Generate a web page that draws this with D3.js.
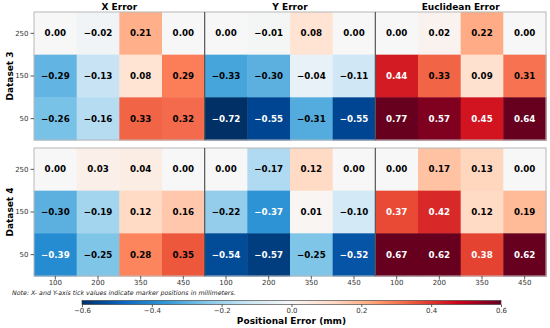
<!DOCTYPE html>
<html>
<head>
<meta charset="utf-8">
<script src="https://cdn.jsdelivr.net/npm/d3@7"></script>
<style>
  body { margin: 0; background: #fff; }
  svg { font-family: "DejaVu Sans", sans-serif; }
</style>
</head>
<body>
<div id="chart"></div>
<script>
// data
const datasets = ["Dataset 3", "Dataset 4"]
const metrics = ["X Error", "Y Error", "Euclidean Error"]
const xTicks = [100, 200, 350, 450]
const yTicks = [250, 150, 50]
const cbTicks = [-0.6, -0.4, -0.2, 0.0, 0.2, 0.4, 0.6]

// rows are y = 250, 150, 50 ; columns are x = 100, 200, 350, 450
const ds3X = [[0.00, -0.02, 0.21, 0.00], [-0.29, -0.13, 0.08, 0.29], [-0.26, -0.16, 0.33, 0.32]]
const ds3Y = [[0.00, -0.01, 0.08, 0.00], [-0.33, -0.30, -0.04, -0.11], [-0.72, -0.55, -0.31, -0.55]]
const ds3E = [[0.00, 0.02, 0.22, 0.00], [0.44, 0.33, 0.09, 0.31], [0.77, 0.57, 0.45, 0.64]]
const ds4X = [[0.00, 0.03, 0.04, 0.00], [-0.30, -0.19, 0.12, 0.16], [-0.39, -0.25, 0.28, 0.35]]
const ds4Y = [[0.00, -0.17, 0.12, 0.00], [-0.22, -0.37, 0.01, -0.10], [-0.54, -0.57, -0.25, -0.52]]
const ds4E = [[0.00, 0.17, 0.13, 0.00], [0.37, 0.42, 0.12, 0.19], [0.67, 0.62, 0.38, 0.62]]

const grids = [[ds3X, ds3Y, ds3E], [ds4X, ds4Y, ds4E]]

const width = 550, height = 328
const margin = { left: 34, right: 546, top: 12, bottom: 276 }

// RdBu_r, built from the colorbrewer anchors
const rdbu = ["#053061", "#2166ac", "#4393c3", "#92c5de", "#d1e5f0", "#f7f7f7",
              "#fddbc7", "#f4a582", "#d6604d", "#b2182b", "#67001f"]
const baseColor = d3.scaleLinear()
    .domain(d3.range(rdbu.length).map(i => -0.6 + i * 1.2 / (rdbu.length - 1)))
    .range(rdbu)
    .interpolate(d3.interpolateRgb)
    .clamp(true)

// the picture looks a bit more saturated than the plain colormap
const color = v => {
    let c = d3.hsl(baseColor(v))
    c.s = Math.min(1, c.s * 1.3)
    return c.formatHex()
}

const fmt = v => d3.format(".2f")(v).replace("-", "\u2212")

let svg = d3.select("#chart")
    .append("svg")
    .attr("width", width)
    .attr("height", height)

const rowBand = d3.scaleBand().domain(datasets).range([margin.top, margin.bottom]).paddingInner(8 / 136)
const panelBand = d3.scaleBand().domain(metrics).range([margin.left, margin.right])
const xBand = d3.scaleBand().domain(xTicks).range([0, panelBand.bandwidth()])
const yBand = d3.scaleBand().domain(yTicks).range([0, rowBand.bandwidth()])

// column titles
svg.selectAll(".title")
    .data(metrics)
    .enter()
    .append("text")
    .attr("x", d => panelBand(d) + panelBand.bandwidth() / 2)
    .attr("y", 10)
    .attr("text-anchor", "middle")
    .style("font-size", "9px")
    .style("font-weight", "bold")
    .text(d => d)

datasets.forEach((ds, r) => {
    const y0 = rowBand(ds)
    let g = svg.append("g").attr("transform", `translate(0,${y0})`)

    metrics.forEach((m, c) => {
        const x0 = panelBand(m)
        const cells = []
        grids[r][c].forEach((row, i) => row.forEach((v, j) => cells.push({ x: xTicks[j], y: yTicks[i], v: v })))

        let p = g.append("g").attr("transform", `translate(${x0},0)`)
        p.selectAll("rect")
            .data(cells)
            .enter()
            .append("rect")
            .attr("x", d => xBand(d.x))
            .attr("y", d => yBand(d.y))
            .attr("width", xBand.bandwidth() + 0.5)
            .attr("height", yBand.bandwidth() + 0.5)
            .style("fill", d => color(d.v))

        p.selectAll("text")
            .data(cells)
            .enter()
            .append("text")
            .attr("x", d => xBand(d.x) + xBand.bandwidth() / 2)
            .attr("y", d => yBand(d.y) + yBand.bandwidth() / 2)
            .attr("dy", "0.36em")
            .attr("text-anchor", "middle")
            .style("font-size", "8.7px")
            .style("font-weight", "bold")
            .style("fill", d => Math.abs(d.v) > 0.36 ? "#fff" : "#000")
            .text(d => fmt(d.v))
    })

    // frame and panel dividers
    g.append("rect")
        .attr("x", margin.left).attr("y", 0)
        .attr("width", margin.right - margin.left).attr("height", rowBand.bandwidth())
        .style("fill", "none").style("stroke", "#b8b8b8").style("stroke-width", 1)
    g.selectAll(".divider")
        .data(metrics.slice(1))
        .enter()
        .append("line")
        .attr("x1", d => panelBand(d)).attr("x2", d => panelBand(d))
        .attr("y1", 0).attr("y2", rowBand.bandwidth())
        .style("stroke", "#555").style("stroke-width", 1.2)

    // y axis
    let yAxis = g.append("g")
        .attr("transform", `translate(${margin.left},0)`)
        .call(d3.axisLeft(yBand).tickSize(3.5).tickPadding(2))
    yAxis.select(".domain").remove()
    yAxis.selectAll("line").style("stroke", "#333").style("stroke-width", 0.8)
    yAxis.selectAll("text").style("font-size", "7px").style("fill", "#333")
        .style("font-family", "DejaVu Sans")

    g.append("text")
        .attr("transform", `translate(13,${rowBand.bandwidth() / 2}) rotate(-90)`)
        .attr("text-anchor", "middle")
        .style("font-size", "9px")
        .style("font-weight", "bold")
        .text(ds)
})

// x axes under the bottom row
metrics.forEach(m => {
    let xAxis = svg.append("g")
        .attr("transform", `translate(${panelBand(m)},${margin.bottom})`)
        .call(d3.axisBottom(xBand).tickSize(3.5).tickPadding(1))
    xAxis.select(".domain").remove()
    xAxis.selectAll("line").style("stroke", "#333").style("stroke-width", 0.8)
    xAxis.selectAll("text").style("font-size", "7px").style("fill", "#333")
        .style("font-family", "DejaVu Sans")
})

svg.append("text")
    .attr("x", 12)
    .attr("y", 294.5)
    .style("font-size", "6.3px")
    .style("font-style", "italic")
    .style("fill", "#222")
    .text("Note: X- and Y-axis tick values indicate marker positions in millimeters.")

// colorbar
const cbX = d3.scaleLinear().domain([-0.6, 0.6]).range([82, 501])
const cbY = 300.5, cbH = 4

let grad = svg.append("defs").append("linearGradient").attr("id", "cbgrad")
grad.selectAll("stop")
    .data(d3.range(0, 1.0001, 0.02))
    .enter()
    .append("stop")
    .attr("offset", d => d)
    .attr("stop-color", d => color(-0.6 + d * 1.2))

svg.append("rect")
    .attr("x", cbX(-0.6)).attr("y", cbY)
    .attr("width", cbX(0.6) - cbX(-0.6)).attr("height", cbH)
    .style("fill", "url(#cbgrad)")
    .style("stroke", "#333").style("stroke-width", 0.6)

let cbAxis = svg.append("g")
    .attr("transform", `translate(0,${cbY + cbH})`)
    .call(d3.axisBottom(cbX).tickValues(cbTicks).tickSize(2.5).tickPadding(1.5)
        .tickFormat(d => d3.format(".1f")(d).replace("-", "\u2212")))
cbAxis.select(".domain").remove()
cbAxis.selectAll("line").style("stroke", "#333").style("stroke-width", 0.8)
cbAxis.selectAll("text").style("font-size", "7px").style("fill", "#333")
    .style("font-family", "DejaVu Sans")

svg.append("text")
    .attr("x", cbX(0))
    .attr("y", 323.5)
    .attr("text-anchor", "middle")
    .style("font-size", "9px")
    .style("font-weight", "bold")
    .text("Positional Error (mm)")
</script>
</body>
</html>
